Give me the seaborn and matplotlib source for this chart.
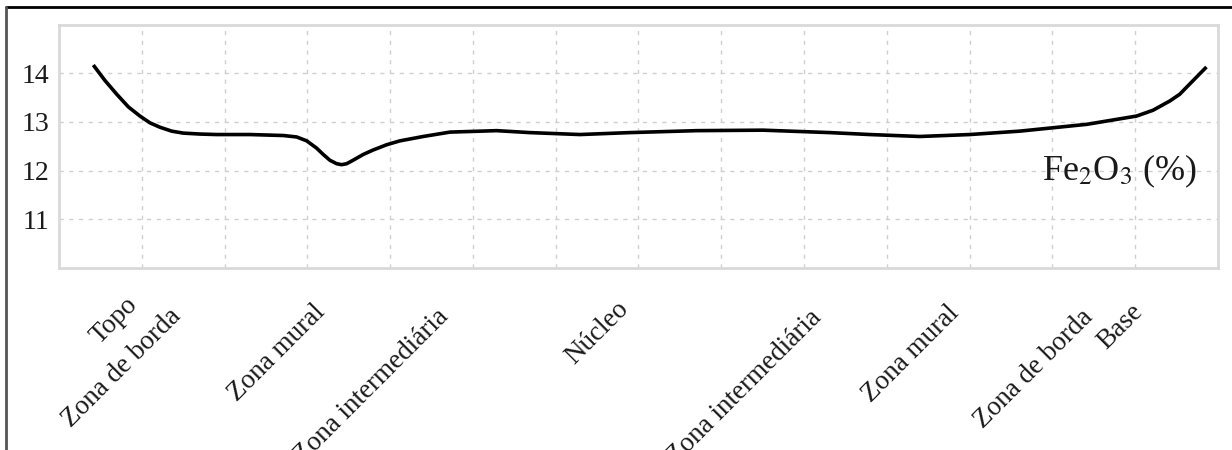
import numpy as np
import matplotlib
matplotlib.use("Agg")
import matplotlib.pyplot as plt
import seaborn as sns
from matplotlib.lines import Line2D

# Fe2O3 profile (position along the body, in grid units)
position = [0.414, 0.556, 0.697, 0.837, 0.978, 1.099, 1.220, 1.361, 1.498, 1.703,
            1.905, 2.307, 2.709, 2.871, 2.992, 3.112, 3.192, 3.273, 3.354, 3.414,
            3.475, 3.551, 3.675, 3.792, 3.958, 4.118, 4.400, 4.722, 5.286, 5.688,
            6.292, 6.896, 7.705, 8.502, 9.312, 9.795, 10.399, 11.002, 11.606, 12.415,
            13.016, 13.216, 13.418, 13.539, 13.619, 13.740, 13.861]
fe2o3 = [14.17, 13.85, 13.57, 13.31, 13.12, 12.98, 12.89, 12.81, 12.77, 12.75,
         12.74, 12.74, 12.72, 12.69, 12.61, 12.46, 12.33, 12.21, 12.14, 12.12,
         12.14, 12.21, 12.33, 12.42, 12.53, 12.61, 12.70, 12.79, 12.82, 12.78,
         12.74, 12.78, 12.82, 12.83, 12.78, 12.74, 12.70, 12.74, 12.81, 12.95,
         13.12, 13.24, 13.43, 13.57, 13.71, 13.92, 14.13]

zones = ['Topo', 'Zona de borda', 'Zona mural', 'Zona intermediária', 'Núcleo',
         'Zona intermediária', 'Zona mural', 'Zona de borda', 'Base']
zone_pos = [1.01, 1.53, 3.28, 4.77, 6.94, 9.27, 10.94, 12.55, 13.15]

sns.set_style('whitegrid')
plt.rcParams['font.family'] = ['Liberation Serif', 'DejaVu Serif']
plt.rcParams['mathtext.fontset'] = 'stix'

fig = plt.figure(figsize=(12.32, 4.5), dpi=100)
ax = fig.add_axes([0.0479, 0.4051, 0.9407, 0.54])

sns.lineplot(x=position, y=fe2o3, ax=ax, color='black', linewidth=2.6,
             solid_joinstyle='round', solid_capstyle='butt')

ax.set_xlim(0, 14)
ax.set_ylim(10, 15)
ax.set_yticks([11, 12, 13, 14])
ax.set_xticks(np.arange(1, 14), minor=True)
ax.set_xticks(zone_pos)
ax.set_xticklabels(zones, rotation=45, ha='right', fontsize=19.5, color='#1a1a1a')
ax.tick_params(axis='x', which='both', pad=22, length=0)
ax.tick_params(axis='y', labelsize=20, pad=7, length=0, labelcolor='#1a1a1a')

# labels in the scan sit at slightly different depths
for tick, p in zip(ax.xaxis.get_major_ticks(), [18, 26, 23, 26, 21, 27, 24, 27, 23]):
    tick.set_pad(p)

ax.grid(False)
ax.grid(True, axis='y', color='#cfcfcf', linestyle=(0, (3, 4)), linewidth=1)
ax.grid(True, axis='x', which='minor', color='#cfcfcf', linestyle=(0, (3, 4)), linewidth=1)
ax.set_xlabel('')
ax.set_ylabel('')

for s in ax.spines.values():
    s.set_color('#d9d9d9')
    s.set_linewidth(2)

ax.text(0.982, 0.36, r'Fe$_2$O$_3$ (%)', transform=ax.transAxes, ha='right',
        va='baseline', fontsize=26, color='#1a1a1a')

# page frame lines from the scan
fig.add_artist(Line2D([0.005, 1], [0.984, 0.984], transform=fig.transFigure,
                      color='black', linewidth=2))
fig.add_artist(Line2D([0.005, 0.005], [0, 0.984], transform=fig.transFigure,
                      color='#555555', linewidth=2))

fig.savefig('out.png', dpi=100)
